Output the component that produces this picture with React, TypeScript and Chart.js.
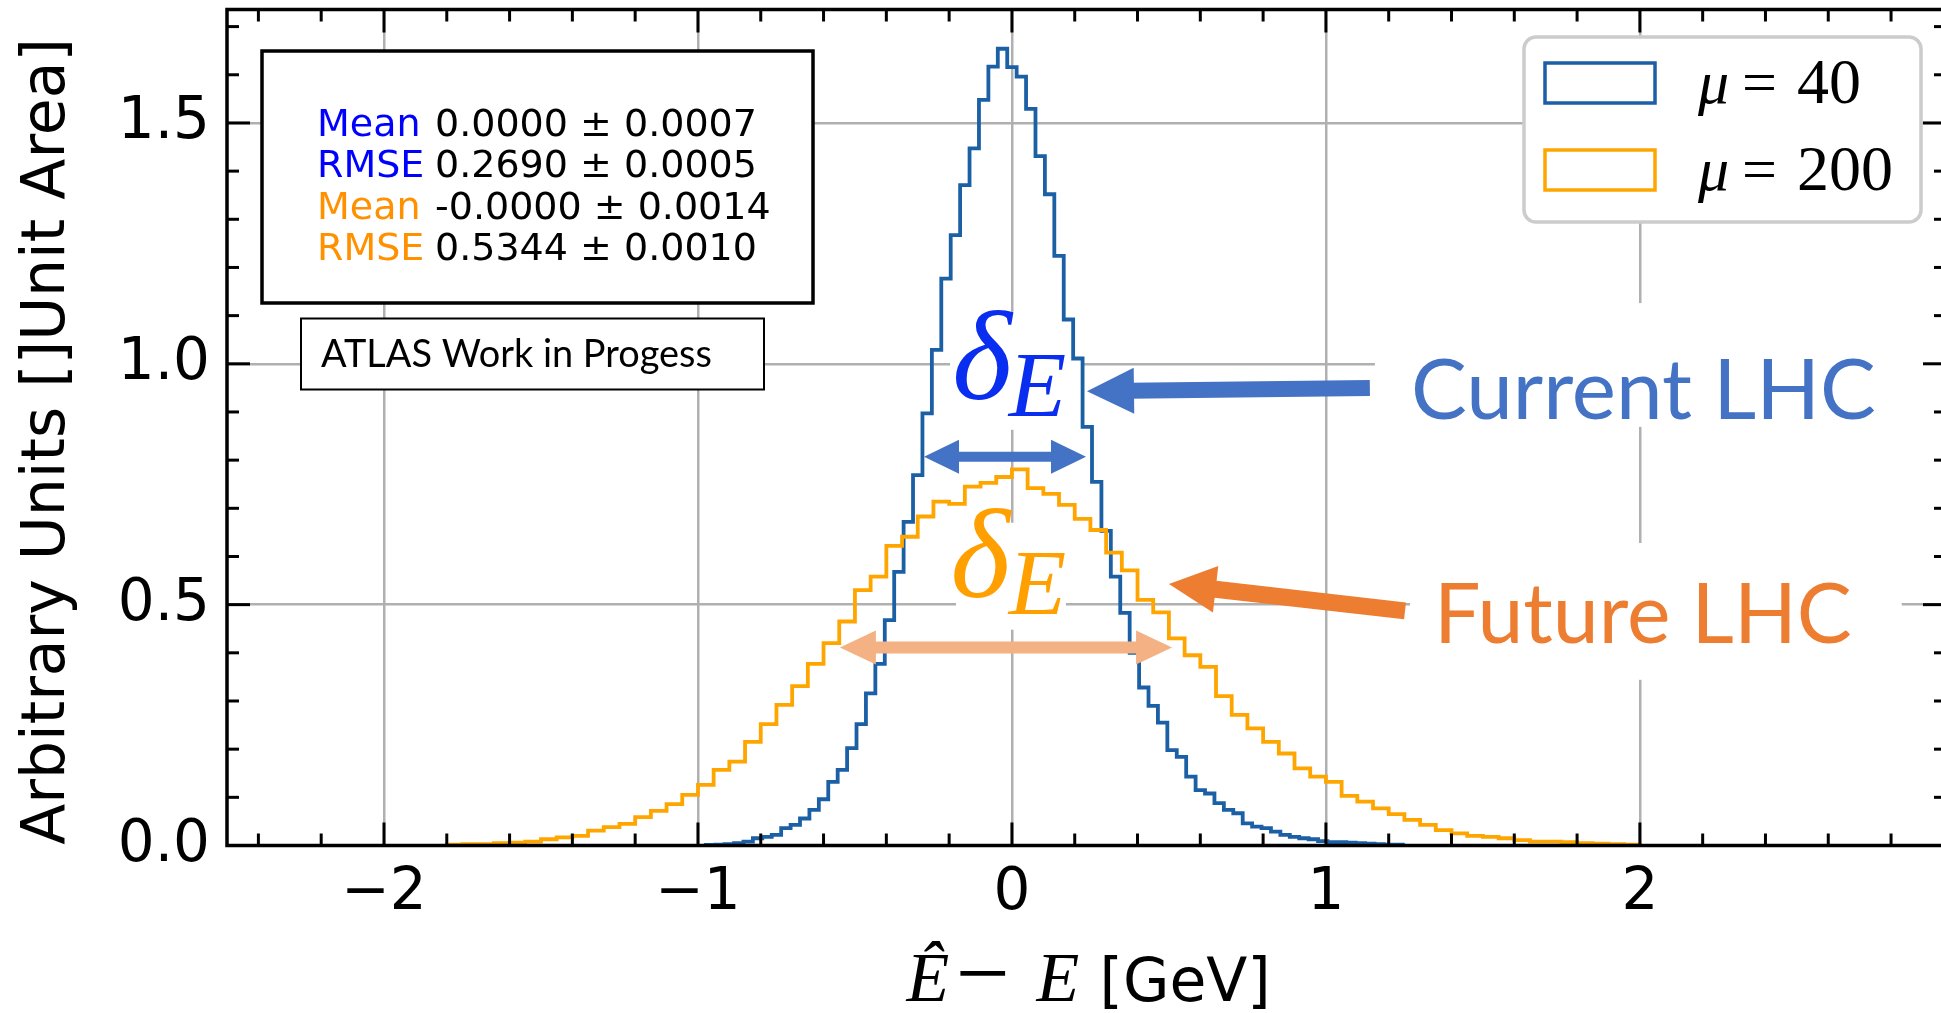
import React, { useEffect, useRef } from 'react';
import { Chart, registerables } from 'chart.js';

Chart.register(...registerables);

// ---------------- data ----------------
const blueLabelValue = '40';
const orangeLabelValue = '200';

// mu = 40 histogram: bins of width 0.03, first bin starts at -0.975
const blueBinStart = -0.975;
const blueBinWidth = 0.03;
const blueValues = [
  0.001, 0.002, 0.003, 0.005, 0.008, 0.015, 0.018, 0.022, 0.036, 0.043,
  0.056, 0.074, 0.096, 0.132, 0.157, 0.202, 0.252, 0.316, 0.377, 0.468,
  0.568, 0.672, 0.769, 0.897, 1.029, 1.177, 1.267, 1.371, 1.447, 1.548,
  1.617, 1.654, 1.616, 1.596, 1.529, 1.431, 1.352, 1.224, 1.092, 1.011,
  0.869, 0.755, 0.653, 0.558, 0.483, 0.400, 0.328, 0.290, 0.255, 0.198,
  0.184, 0.143, 0.115, 0.108, 0.088, 0.074, 0.067, 0.046, 0.039, 0.036,
  0.029, 0.022, 0.018, 0.015, 0.013, 0.009, 0.007, 0.007, 0.006, 0.005,
  0.004, 0.003, 0.002, 0.002,
];

// mu = 200 histogram: bins of width 0.05, first bin starts at -1.80
const orangeBinStart = -1.8;
const orangeBinWidth = 0.05;
const orangeValues = [
  0.002, 0.003, 0.003, 0.005, 0.006, 0.008, 0.013, 0.017, 0.020, 0.031,
  0.038, 0.045, 0.059, 0.072, 0.086, 0.105, 0.126, 0.157, 0.174, 0.215,
  0.252, 0.292, 0.331, 0.377, 0.420, 0.465, 0.530, 0.558, 0.622, 0.641,
  0.683, 0.714, 0.709, 0.745, 0.753, 0.765, 0.781, 0.742, 0.730, 0.707,
  0.678, 0.655, 0.608, 0.571, 0.510, 0.484, 0.430, 0.395, 0.371, 0.310,
  0.271, 0.243, 0.215, 0.191, 0.160, 0.143, 0.132, 0.103, 0.091, 0.077,
  0.065, 0.053, 0.043, 0.032, 0.025, 0.020, 0.018, 0.015, 0.011, 0.008,
  0.008, 0.007, 0.005, 0.004, 0.003, 0.002,
];

const xTickValues = [-2, -1, 0, 1, 2];
const yTickValues = [0, 0.5, 1.0, 1.5];
const xMin = -2.5;
const xMax = 2.975;
const yMin = 0;
const yMax = 1.7355;

const statNames = ['Mean', 'RMSE', 'Mean', 'RMSE'];
const statValues = ['0.0000 ± 0.0007', '0.2690 ± 0.0005', '-0.0000 ± 0.0014', '0.5344 ± 0.0010'];

const yTitle = 'Arbitrary Units []Unit Area]';
const boxText = 'ATLAS Work in Progess';
const currentText = 'Current LHC';
const futureText = 'Future LHC';

// ---------------- styles ----------------
const BLUE = '#1b5fa5';
const ORANGE = '#ffa500';
const STAT_BLUE = '#0000ff';
const STAT_ORANGE = '#ff9100';
const GRID = '#b0b0b0';
const ANN_BLUE = '#4472c4';
const ANN_ORANGE = '#ed7d31';
const ANN_LIGHT = '#f4b183';
const DELTA_BLUE = '#0a2ef0';
const DELTA_ORANGE = '#ffa000';

const SANS = '"DejaVu Sans", sans-serif';
const SERIF = '"Liberation Serif", "DejaVu Serif", serif';
const SLIDE = 'Lato, "Open Sans", sans-serif';

// annotation anchors, in data coordinates
const ann = {
  blueDouble: { x1: -0.28, x2: 0.236, y: 0.807 },
  lightDouble: { x1: -0.548, x2: 0.51, y: 0.411 },
  blueArrow: { tail: [1.14, 0.95], tip: [0.239, 0.943] },
  orangeArrow: { tail: [1.252, 0.487], tip: [0.5, 0.543] },
  blueDeltaBox: { x0: -0.197, x1: 0.226, y0: 0.863, y1: 1.108 },
  orangeDeltaBox: { x0: -0.178, x1: 0.172, y0: 0.448, y1: 0.67 },
  blueDelta: { dx: -0.19, dy: 0.927, ex: -0.01, ey: 0.892 },
  orangeDelta: { dx: -0.196, dy: 0.516, ex: -0.01, ey: 0.481 },
  currentBox: { x0: 1.156, x1: 2.975, y0: 0.869, y1: 1.126 },
  futureBox: { x0: 1.268, x1: 2.834, y0: 0.344, y1: 0.628 },
  current: { x: 1.271, y: 0.885, x2: 2.752 },
  future: { x: 1.344, y: 0.42, x2: 2.675 },
};

function stepPoints(start: number, width: number, values: number[]) {
  const pts: { x: number; y: number }[] = [{ x: start, y: 0 }];
  values.forEach((v, i) => pts.push({ x: start + i * width, y: v }));
  pts.push({ x: start + values.length * width, y: 0 });
  return pts;
}

function head(ctx: CanvasRenderingContext2D, tx: number, ty: number, ux: number, uy: number, len: number, hw: number) {
  const bx = tx - ux * len;
  const by = ty - uy * len;
  const nx = -uy;
  const ny = ux;
  ctx.beginPath();
  ctx.moveTo(tx, ty);
  ctx.lineTo(bx + nx * hw, by + ny * hw);
  ctx.lineTo(bx - nx * hw, by - ny * hw);
  ctx.closePath();
  ctx.fill();
}

function arrow(ctx: CanvasRenderingContext2D, x1: number, y1: number, x2: number, y2: number, color: string,
  shaft: number, len: number, width: number, both: boolean) {
  const dx = x2 - x1;
  const dy = y2 - y1;
  const L = Math.hypot(dx, dy);
  const ux = dx / L;
  const uy = dy / L;
  ctx.save();
  ctx.fillStyle = color;
  ctx.strokeStyle = color;
  ctx.lineWidth = shaft;
  ctx.lineCap = 'butt';
  const s = both ? len * 0.9 : 0;
  ctx.beginPath();
  ctx.moveTo(x1 + ux * s, y1 + uy * s);
  ctx.lineTo(x2 - ux * len * 0.9, y2 - uy * len * 0.9);
  ctx.stroke();
  head(ctx, x2, y2, ux, uy, len, width / 2);
  if (both) head(ctx, x1, y1, -ux, -uy, len, width / 2);
  ctx.restore();
}

function fitSize(ctx: CanvasRenderingContext2D, text: string, family: string, target: number) {
  ctx.font = `100px ${family}`;
  return (100 * target) / ctx.measureText(text).width;
}

const overlay = {
  id: 'overlay',
  beforeDatasetsDraw(chart: any) {
    const ctx: CanvasRenderingContext2D = chart.ctx;
    const X = (v: number) => chart.scales.x.getPixelForValue(v);
    const Y = (v: number) => chart.scales.y.getPixelForValue(v);
    ctx.save();
    ctx.fillStyle = '#ffffff';
    for (const b of [ann.blueDeltaBox, ann.orangeDeltaBox, ann.currentBox, ann.futureBox]) {
      ctx.fillRect(X(b.x0), Y(b.y1), X(b.x1) - X(b.x0), Y(b.y0) - Y(b.y1));
    }
    // delta_E labels
    const drawDelta = (d: any, color: string) => {
      ctx.fillStyle = color;
      ctx.textAlign = 'left';
      ctx.textBaseline = 'alphabetic';
      ctx.font = `italic 128px ${SERIF}`;
      ctx.fillText('δ', X(d.dx), Y(d.dy));
      ctx.font = `italic 94px ${SERIF}`;
      ctx.fillText('E', X(d.ex), Y(d.ey));
    };
    drawDelta(ann.blueDelta, DELTA_BLUE);
    drawDelta(ann.orangeDelta, DELTA_ORANGE);
    // slide texts
    const drawSlide = (t: string, a: any, color: string) => {
      const size = fitSize(ctx, t, SLIDE, X(a.x2) - X(a.x));
      ctx.font = `${size}px ${SLIDE}`;
      ctx.fillStyle = color;
      ctx.textAlign = 'left';
      ctx.textBaseline = 'alphabetic';
      ctx.fillText(t, X(a.x), Y(a.y));
    };
    drawSlide(currentText, ann.current, ANN_BLUE);
    drawSlide(futureText, ann.future, ANN_ORANGE);
    ctx.restore();
  },
  afterDatasetsDraw(chart: any) {
    const ctx: CanvasRenderingContext2D = chart.ctx;
    const ca = chart.chartArea;
    const X = (v: number) => chart.scales.x.getPixelForValue(v);
    const Y = (v: number) => chart.scales.y.getPixelForValue(v);
    ctx.save();

    // arrows
    arrow(ctx, X(ann.blueDouble.x1), Y(ann.blueDouble.y), X(ann.blueDouble.x2), Y(ann.blueDouble.y), ANN_BLUE, 10, 35, 34, true);
    arrow(ctx, X(ann.lightDouble.x1), Y(ann.lightDouble.y), X(ann.lightDouble.x2), Y(ann.lightDouble.y), ANN_LIGHT, 12, 36, 34, true);
    arrow(ctx, X(ann.blueArrow.tail[0]), Y(ann.blueArrow.tail[1]), X(ann.blueArrow.tip[0]), Y(ann.blueArrow.tip[1]), ANN_BLUE, 16, 47, 46, false);
    arrow(ctx, X(ann.orangeArrow.tail[0]), Y(ann.orangeArrow.tail[1]), X(ann.orangeArrow.tip[0]), Y(ann.orangeArrow.tip[1]), ANN_ORANGE, 17, 47, 47, false);

    // stats box
    const sx = ca.left + 35;
    const sy = ca.top + 41.5;
    ctx.fillStyle = '#ffffff';
    ctx.fillRect(sx, sy, 551, 252);
    ctx.strokeStyle = '#000000';
    ctx.lineWidth = 3.5;
    ctx.strokeRect(sx, sy, 551, 252);
    ctx.font = `38px ${SANS}`;
    ctx.textAlign = 'left';
    ctx.textBaseline = 'alphabetic';
    statNames.forEach((n, i) => {
      const by = sy + 85 + i * 41.3;
      ctx.fillStyle = i < 2 ? STAT_BLUE : STAT_ORANGE;
      ctx.fillText(n, sx + 55, by);
      ctx.fillStyle = '#000000';
      ctx.fillText(statValues[i], sx + 173, by);
    });

    // ATLAS box
    const ax = ca.left + 74;
    const ay = ca.top + 309;
    ctx.fillStyle = '#ffffff';
    ctx.fillRect(ax, ay, 463, 71);
    ctx.lineWidth = 2;
    ctx.strokeStyle = '#000000';
    ctx.strokeRect(ax, ay, 463, 71);
    const asz = fitSize(ctx, boxText, SLIDE, 391);
    ctx.font = `${asz}px ${SLIDE}`;
    ctx.fillStyle = '#000000';
    ctx.fillText(boxText, ax + 20, ay + 48);

    // legend
    const lx = ca.right - 422;
    const ly = ca.top + 27.5;
    const lw = 397;
    const lh = 185;
    ctx.beginPath();
    ctx.roundRect(lx, ly, lw, lh, 12);
    ctx.fillStyle = '#ffffff';
    ctx.fill();
    ctx.lineWidth = 3.5;
    ctx.strokeStyle = '#cccccc';
    ctx.stroke();
    const ds = chart.data.datasets;
    const legendVals = [blueLabelValue, orangeLabelValue];
    ds.forEach((d: any, i: number) => {
      const top = ly + 26 + i * 87;
      ctx.lineWidth = 3.5;
      ctx.strokeStyle = d.borderColor;
      ctx.strokeRect(lx + 21, top, 110, 40);
      const base = top + 40;
      ctx.fillStyle = '#000000';
      ctx.font = `italic 62px ${SERIF}`;
      ctx.fillText('μ', lx + 174, base);
      ctx.font = `62px ${SERIF}`;
      ctx.fillText('=', lx + 218, base);
      ctx.font = `64px ${SERIF}`;
      ctx.fillText(legendVals[i], lx + 273, base);
    });

    // spines
    ctx.strokeStyle = '#000000';
    ctx.lineWidth = 3.5;
    ctx.strokeRect(ca.left, ca.top, ca.right - ca.left, ca.bottom - ca.top);

    // inward ticks on all four sides
    ctx.lineWidth = 3;
    ctx.lineCap = 'butt';
    const tick = (x1: number, y1: number, x2: number, y2: number) => {
      ctx.beginPath();
      ctx.moveTo(x1, y1);
      ctx.lineTo(x2, y2);
      ctx.stroke();
    };
    for (let k = -12; k <= 14; k++) {
      const v = k * 0.2;
      if (v < xMin || v > xMax) continue;
      const major = Math.abs(v - Math.round(v)) < 1e-6;
      const len = major ? 23 : 12;
      const p = X(v);
      tick(p, ca.bottom, p, ca.bottom - len);
      tick(p, ca.top, p, ca.top + len);
    }
    for (let k = 0; k <= 17; k++) {
      const v = k * 0.1;
      if (v > yMax) continue;
      const major = k % 5 === 0;
      const len = major ? 23 : 12;
      const p = Y(v);
      tick(ca.left, p, ca.left + len, p);
      tick(ca.right, p, ca.right - len, p);
    }

    // axis titles
    ctx.fillStyle = '#000000';
    ctx.save();
    ctx.translate(64, (ca.top + ca.bottom) / 2 + 14);
    ctx.rotate(-Math.PI / 2);
    ctx.font = `60px ${SANS}`;
    ctx.textAlign = 'center';
    ctx.textBaseline = 'alphabetic';
    ctx.fillText(yTitle, 0, 0);
    ctx.restore();

    const cx = (ca.left + ca.right) / 2;
    const bl = ca.bottom + 155.5;
    ctx.textAlign = 'left';
    ctx.textBaseline = 'alphabetic';
    ctx.font = `italic 70px ${SERIF}`;
    ctx.fillText('Ê', cx - 180, bl);
    ctx.font = `96px ${SERIF}`;
    ctx.fillText('−', cx - 131, bl + 4);
    ctx.font = `italic 70px ${SERIF}`;
    ctx.fillText('E', cx - 50, bl);
    ctx.font = `60px ${SANS}`;
    ctx.fillText('[GeV]', cx + 13, bl);

    ctx.restore();
  },
};

const zeroPad = (s: any) => {
  s.paddingTop = 0;
  s.paddingBottom = 0;
  s.paddingLeft = 0;
  s.paddingRight = 0;
};

export default function App() {
  const ref = useRef<HTMLCanvasElement | null>(null);
  useEffect(() => {
    document.body.style.margin = '0';
    document.body.style.overflow = 'hidden';
    const canvas = ref.current;
    if (!canvas) return;
    const chart = new Chart(canvas, {
      type: 'scatter',
      data: {
        datasets: [
          {
            label: `μ = ${blueLabelValue}`,
            data: stepPoints(blueBinStart, blueBinWidth, blueValues),
            borderColor: BLUE,
            backgroundColor: BLUE,
            borderWidth: 3.8,
            showLine: true,
            stepped: 'before',
            pointRadius: 0,
            fill: false,
            order: 1,
          } as any,
          {
            label: `μ = ${orangeLabelValue}`,
            data: stepPoints(orangeBinStart, orangeBinWidth, orangeValues),
            borderColor: ORANGE,
            backgroundColor: ORANGE,
            borderWidth: 3.8,
            showLine: true,
            stepped: 'before',
            pointRadius: 0,
            fill: false,
            order: 0,
          } as any,
        ],
      },
      options: {
        animation: false,
        responsive: false,
        devicePixelRatio: 1,
        events: [],
        layout: { autoPadding: false, padding: { top: 9.5, right: 14, left: 0, bottom: 0 } },
        plugins: { legend: { display: false }, tooltip: { enabled: false } },
        scales: {
          x: {
            type: 'linear',
            min: xMin,
            max: xMax,
            afterFit: (s: any) => { s.height = 167.5; zeroPad(s); },
            afterBuildTicks: (s: any) => { s.ticks = xTickValues.map((v) => ({ value: v })); },
            grid: { color: GRID, lineWidth: 2.5, drawTicks: false },
            border: { display: false },
            ticks: {
              autoSkip: false,
              maxRotation: 0,
              padding: 14,
              color: '#000000',
              font: { family: 'DejaVu Sans', size: 58 },
              callback: (v: any) => (Number(v) < 0 ? '−' + Math.abs(Number(v)) : String(v)),
            },
          },
          y: {
            type: 'linear',
            min: yMin,
            max: yMax,
            afterFit: (s: any) => { s.width = 227; zeroPad(s); },
            afterBuildTicks: (s: any) => { s.ticks = yTickValues.map((v) => ({ value: v })); },
            grid: { color: GRID, lineWidth: 2.5, drawTicks: false },
            border: { display: false },
            ticks: {
              autoSkip: false,
              padding: 17,
              color: '#000000',
              font: { family: 'DejaVu Sans', size: 58 },
              callback: (v: any) => Number(v).toFixed(1),
            },
          },
        },
      } as any,
      plugins: [overlay],
    });
    return () => chart.destroy();
  }, []);
  return (
    <div style={{ width: 1941, height: 1013, overflow: 'hidden', position: 'relative', background: '#ffffff' }}>
      <canvas ref={ref} width={1960} height={1013} style={{ display: 'block' }} />
    </div>
  );
}
